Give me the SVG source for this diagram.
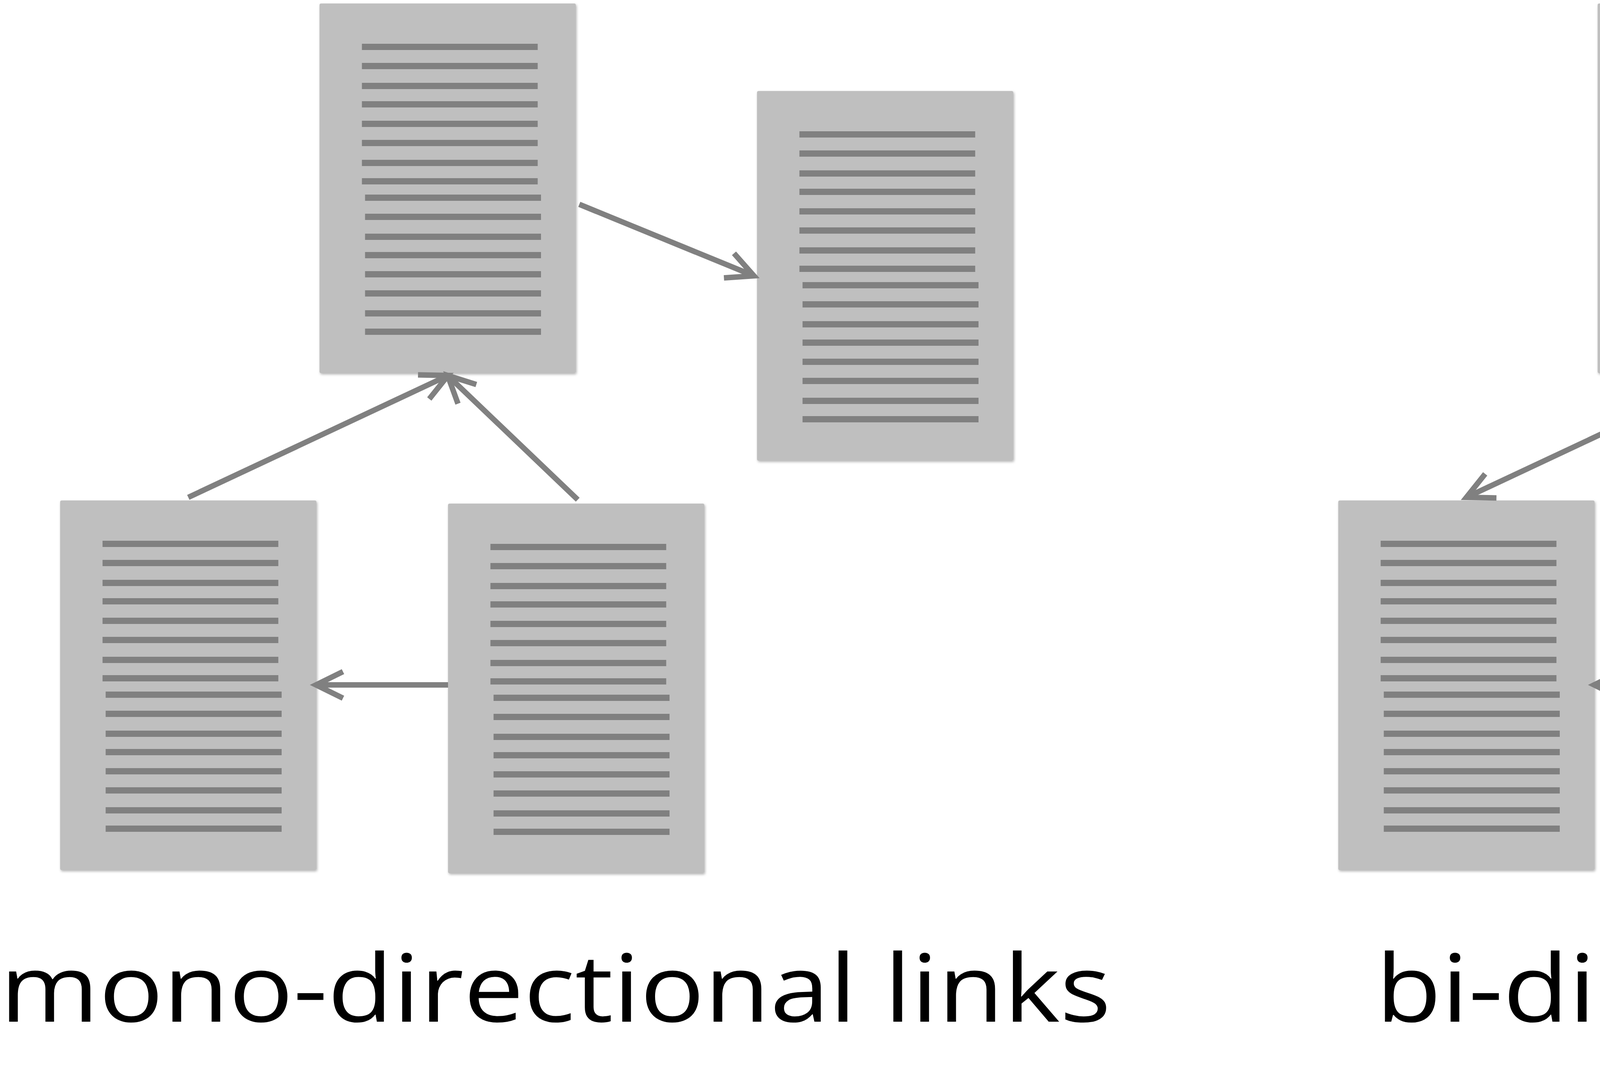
<svg xmlns="http://www.w3.org/2000/svg" xmlns:xlink="http://www.w3.org/1999/xlink" width="5874" height="2754" viewBox="0 0 5874 2754">
  <style>
    .conn { fill: none; stroke: #808080; stroke-width: 14; stroke-linecap: butt; }
    .uni { marker-end: url(#arrow); }
    .bi { marker-start: url(#arrow); marker-end: url(#arrow); }
    .label { font-family: "Open Sans", "Noto Sans", "Liberation Sans", sans-serif; font-size: 240px; fill: #000000; }
  </style>
  <defs>
    <filter id="sh" x="-5%" y="-5%" width="115%" height="115%">
      <feDropShadow dx="2" dy="3" stdDeviation="3" flood-color="#000000" flood-opacity="0.3"/>
    </filter>
    <marker id="arrow" markerUnits="userSpaceOnUse" viewBox="-80 -45 100 90" markerWidth="100" markerHeight="90" refX="0" refY="0" orient="auto-start-reverse" overflow="visible">
      <path d="M-69,-34 L0,0 L-69,34" fill="none" stroke="#808080" stroke-width="14" stroke-linejoin="miter" stroke-miterlimit="10"/>
    </marker>
    <g id="doc">
      <rect x="0" y="0" width="656" height="946" rx="4" fill="#BFBFBF" filter="url(#sh)"/>
      <path fill="none" stroke="#808080" stroke-width="16" d="M108.5,111H558.5M108.5,160H558.5M108.5,211H558.5M108.5,258H558.5M108.5,308H558.5M108.5,357H558.5M108.5,408H558.5M108.5,455H558.5M116.5,497H567M116.5,546H567M116.5,597H567M116.5,644H567M116.5,693H567M116.5,742H567M116.5,793H567M116.5,840H567"/>
    </g>
  </defs>

  <rect x="0" y="0" width="5874" height="2754" fill="#FFFFFF"/>

  <!-- mono-directional side -->
  <g id="docA"><use href="#doc" xlink:href="#doc" transform="translate(818,9)"/></g>
  <g id="docB"><use href="#doc" xlink:href="#doc" transform="translate(1938,233)"/></g>
  <g id="docC"><use href="#doc" xlink:href="#doc" transform="translate(154,1281)"/></g>
  <g id="docD"><use href="#doc" xlink:href="#doc" transform="translate(1147,1289)"/></g>

  <!-- bi-directional side -->
  <g id="docE"><use href="#doc" xlink:href="#doc" transform="translate(4090,9)"/></g>
  <g id="docF"><use href="#doc" xlink:href="#doc" transform="translate(5210,233)"/></g>
  <g id="docG"><use href="#doc" xlink:href="#doc" transform="translate(3426,1281)"/></g>
  <g id="docH"><use href="#doc" xlink:href="#doc" transform="translate(4419,1289)"/></g>

  <g id="connectors">
    <line class="conn uni" x1="1483" y1="523" x2="1930" y2="706"/>
    <line class="conn uni" x1="482" y1="1273" x2="1147" y2="961"/>
    <line class="conn uni" x1="1479" y1="1279" x2="1146" y2="961"/>
    <line class="conn uni" x1="1147" y1="1753" x2="809" y2="1753"/>

    <line class="conn bi" x1="4755" y1="523" x2="5202" y2="706"/>
    <line class="conn bi" x1="3754" y1="1273" x2="4419" y2="961"/>
    <line class="conn bi" x1="4751" y1="1279" x2="4418" y2="961"/>
    <line class="conn bi" x1="4419" y1="1753" x2="4081" y2="1753"/>
  </g>

  <g id="labels">
    <text class="label" x="0" y="2615" textLength="2844" lengthAdjust="spacingAndGlyphs">mono-directional links</text>
    <text class="label" x="3522" y="2615" textLength="2338" lengthAdjust="spacingAndGlyphs">bi-directional links</text>
  </g>
</svg>
